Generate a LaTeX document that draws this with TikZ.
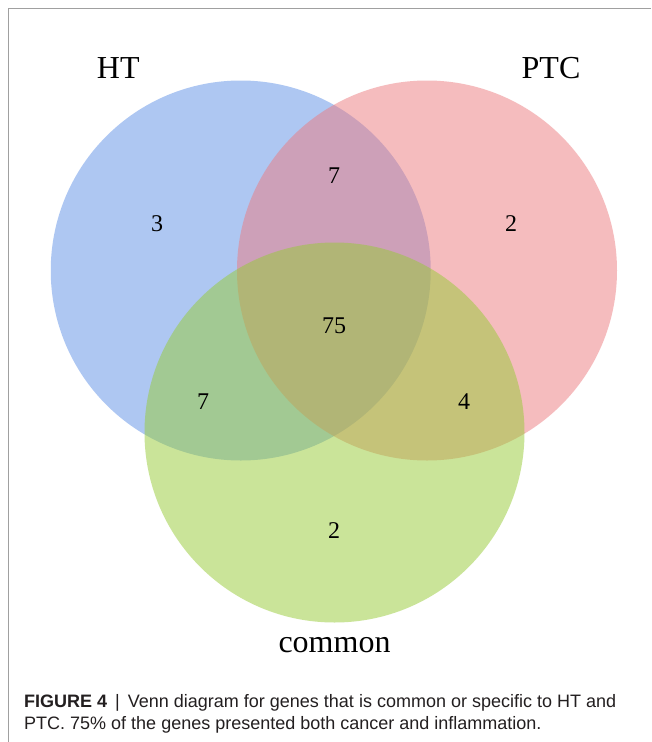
\documentclass[tikz,border=0pt]{standalone}
\usepackage{fontspec}
\setmainfont{Liberation Serif}
\newfontfamily\capfont{Liberation Sans}
\definecolor{setB}{RGB}{95,145,231}
\definecolor{setR}{RGB}{237,123,127}
\definecolor{setG}{RGB}{151,203,53}
\definecolor{frameg}{RGB}{160,160,160}
\definecolor{captxt}{RGB}{35,31,32}
\tikzset{
  setcircle/.style={circle, minimum size=380pt, inner sep=0pt, fill opacity=0.5, draw=none},
  setlabel/.style={anchor=base, inner sep=0pt, font=\fontsize{32}{36}\selectfont},
  count/.style={anchor=base, inner sep=0pt, font=\fontsize{24}{28}\selectfont},
  capline/.style={anchor=base west, inner sep=0pt, text=captxt, font=\capfont\fontsize{18}{22}\selectfont}
}
\begin{document}
\begin{tikzpicture}[x=1pt,y=-1pt]
\useasboundingbox (0,0) rectangle (651,742);
\fill[white] (0,0) rectangle (651,742);
\draw[frameg, line width=1pt] (8.5,742) coordinate (fb) -- (8.5,8.5) coordinate (fc) -- (651,8.5) coordinate (fr);
\node[setcircle, fill=setB] (ht) at (240.75,270.5) {};
\node[setcircle, fill=setR] (ptc) at (427,270.5) {};
\node[setcircle, fill=setG] (com) at (334.5,432.5) {};
\node[setlabel] (lht) at (118.3,78.3) {HT};
\node[setlabel] (lptc) at (551,78) {PTC};
\node[setlabel] (lcom) at (334.5,652) {common};
\node[count] (n1) at (157,231.5) {3};
\node[count] (n2) at (334,183) {7};
\node[count] (n3) at (511,231.5) {2};
\node[count] (n4) at (334,333.5) {75};
\node[count] (n5) at (203,409) {7};
\node[count] (n6) at (464,409) {4};
\node[count] (n7) at (334,538.3) {2};
\node[capline] (c1) at (24,707.5) {\textbf{FIGURE 4} \,|\, Venn diagram for genes that is common or specific to HT and};
\node[capline] (c2) at (24,729.5) {PTC. 75\% of the genes presented both cancer and inflammation.};
\end{tikzpicture}
\end{document}
